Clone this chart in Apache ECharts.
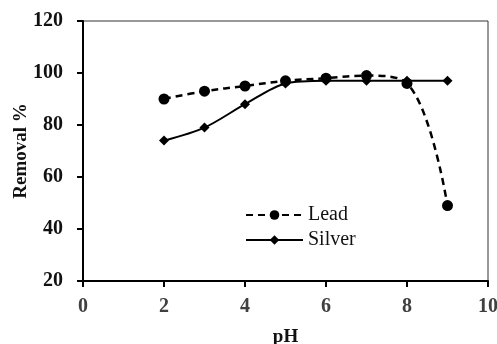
<!DOCTYPE html>
<html><head><meta charset="utf-8">
<script src="https://cdn.jsdelivr.net/npm/echarts@6/dist/echarts.min.js"></script>
<style>html,body{margin:0;padding:0;background:#fff}#c{width:497px;height:344px}</style>
</head><body><div id="c"></div>
<script>
const pH = [2, 3, 4, 5, 6, 7, 8, 9];
const lead = [90, 93, 95, 97, 98, 99, 96, 49];
const silver = [74, 79, 88, 96, 97, 97, 97, 97];
const xTicks = [0, 2, 4, 6, 8, 10];
const yTicks = [20, 40, 60, 80, 100, 120];

const chart = echarts.init(document.getElementById('c'));
const font = '"Liberation Serif", "Times New Roman", serif';
chart.setOption({
  animation: false,
  grid: {left: 83, right: 9, top: 21, bottom: 63, show: true, borderColor: '#333', borderWidth: 1,
         containLabel: false, outerBoundsMode: 'none'},
  legend: {
    left: 240, top: 200, orient: 'vertical', itemGap: 5, itemWidth: 57, itemHeight: 12,
    textStyle: {fontFamily: font, fontSize: 20, color: '#111'},
    data: ['Lead', 'Silver']
  },
  xAxis: {
    type: 'value', min: xTicks[0], max: xTicks[xTicks.length-1], interval: 2,
    name: 'pH', nameLocation: 'middle', nameGap: 47,
    nameTextStyle: {fontFamily: font, fontSize: 19, fontWeight: 'bold', color: '#111'},
    axisLine: {lineStyle: {color: '#000', width: 2}},
    axisTick: {show: true, inside: false, length: 6, lineStyle: {color: '#000', width: 2}},
    axisLabel: {fontFamily: font, fontSize: 20, fontWeight: 'bold', color: '#404040', margin: 16},
    splitLine: {show: false}
  },
  yAxis: {
    type: 'value', min: yTicks[0], max: yTicks[yTicks.length-1], interval: 20,
    name: 'Removal %', nameLocation: 'middle', nameGap: 52, nameRotate: 90, nameMoveOverlap: false,
    nameTextStyle: {fontFamily: font, fontSize: 19, fontWeight: 'bold', color: '#111'},
    axisLine: {show: true, lineStyle: {color: '#000', width: 2}},
    axisTick: {show: true, inside: false, length: 6, lineStyle: {color: '#000', width: 2}},
    axisLabel: {fontFamily: font, fontSize: 20, fontWeight: 'bold', color: '#111', margin: 20},
    splitLine: {show: false}
  },
  series: [
    {
      name: 'Lead', type: 'line', smooth: 0.4,
      data: pH.map((x, i) => [x, lead[i]]),
      symbol: 'circle', symbolSize: 11,
      lineStyle: {color: '#000', width: 2.5, type: [7, 5]},
      itemStyle: {color: '#000'}
    },
    {
      name: 'Silver', type: 'line', smooth: 0.3,
      data: pH.map((x, i) => [x, silver[i]]),
      symbol: 'diamond', symbolSize: 10,
      lineStyle: {color: '#000', width: 2},
      itemStyle: {color: '#000'}
    }
  ]
});
</script></body></html>
